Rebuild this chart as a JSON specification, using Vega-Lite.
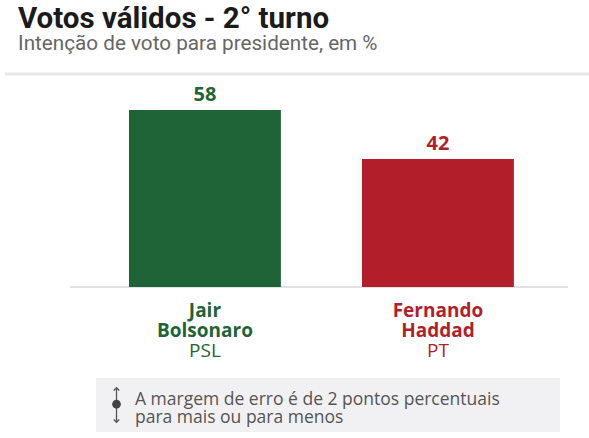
{
  "$schema": "https://vega.github.io/schema/vega-lite/v6.json",
  "width": 589,
  "height": 363,
  "autosize": {"type": "none"},
  "padding": {"left": 0, "right": 0, "top": 75, "bottom": 0},
  "background": "#ffffff",
  "config": {"view": {"stroke": null}},
  "title": {
    "text": "Votos válidos - 2° turno",
    "subtitle": "Intenção de voto para presidente, em %",
    "anchor": "start",
    "frame": "group",
    "dx": 18,
    "offset": 17.5,
    "font": "Roboto",
    "fontSize": 29.5,
    "fontWeight": "bold",
    "color": "#1b1b1b",
    "subtitleFont": "Roboto",
    "subtitleFontSize": 20.7,
    "subtitleColor": "#666666",
    "subtitlePadding": 0
  },
  "datasets": {
    "pesquisa": [
      {"candidato": "Jair Bolsonaro", "partido": "PSL", "votos": 58},
      {"candidato": "Fernando Haddad", "partido": "PT", "votos": 42}
    ],
    "nota": [
      {"texto": "A margem de erro é de 2 pontos percentuais\npara mais ou para menos"}
    ]
  },
  "resolve": {"scale": {"x": "independent"}},
  "layer": [
    {
      "data": {"values": [{}]},
      "mark": {"type": "rule", "color": "#e8e8e8", "strokeWidth": 3},
      "encoding": {
        "x": {"datum": 5, "type": "quantitative", "scale": {"domain": [0, 589], "nice": false, "zero": false}, "axis": null},
        "x2": {"datum": 589},
        "y": {"datum": 69.8, "type": "quantitative", "scale": {"domain": [-49.5, 69.5], "nice": false, "zero": false}, "axis": null}
      }
    },
    {
      "data": {"values": [{}]},
      "mark": {"type": "rule", "color": "#d9d9d9", "strokeWidth": 1.5},
      "encoding": {
        "x": {"datum": 70, "type": "quantitative", "scale": {"domain": [0, 589], "nice": false, "zero": false}, "axis": null},
        "x2": {"datum": 568},
        "y": {"datum": 0, "type": "quantitative", "scale": {"domain": [-49.5, 69.5], "nice": false, "zero": false}, "axis": null}
      }
    },
    {
      "data": {"name": "pesquisa"},
      "mark": {"type": "bar"},
      "encoding": {
        "x": {"field": "candidato", "type": "nominal", "sort": null, "axis": null,
              "scale": {"type": "band", "paddingInner": 0.348, "paddingOuter": 0.438, "align": 0.632}},
        "y": {"field": "votos", "type": "quantitative", "scale": {"domain": [-49.5, 69.5], "nice": false, "zero": false}, "axis": null},
        "y2": {"datum": 0},
        "color": {"field": "candidato", "type": "nominal", "legend": null,
                  "scale": {"domain": ["Jair Bolsonaro", "Fernando Haddad"], "range": ["#1f6436", "#b21f2b"]}}
      }
    },
    {
      "data": {"name": "pesquisa"},
      "mark": {"type": "text", "font": "Open Sans", "fontSize": 20, "fontWeight": "bold", "align": "center", "baseline": "alphabetic", "dy": -9},
      "encoding": {
        "x": {"field": "candidato", "type": "nominal", "sort": null, "axis": null, "bandPosition": 0.5,
              "scale": {"type": "band", "paddingInner": 0.348, "paddingOuter": 0.438, "align": 0.632}},
        "y": {"field": "votos", "type": "quantitative", "scale": {"domain": [-49.5, 69.5], "nice": false, "zero": false}, "axis": null},
        "text": {"field": "votos", "type": "quantitative"},
        "color": {"field": "candidato", "type": "nominal", "legend": null,
                  "scale": {"domain": ["Jair Bolsonaro", "Fernando Haddad"], "range": ["#1f6436", "#b21f2b"]}}
      }
    },
    {
      "data": {"name": "pesquisa"},
      "mark": {"type": "text", "font": "Open Sans", "fontSize": 19, "fontWeight": "bold", "align": "center", "baseline": "alphabetic", "lineBreak": " ", "lineHeight": 20, "dy": 30},
      "encoding": {
        "x": {"field": "candidato", "type": "nominal", "sort": null, "axis": null, "bandPosition": 0.5,
              "scale": {"type": "band", "paddingInner": 0.348, "paddingOuter": 0.438, "align": 0.632}},
        "y": {"datum": 0, "type": "quantitative", "scale": {"domain": [-49.5, 69.5], "nice": false, "zero": false}, "axis": null},
        "text": {"field": "candidato", "type": "nominal"},
        "color": {"field": "candidato", "type": "nominal", "legend": null,
                  "scale": {"domain": ["Jair Bolsonaro", "Fernando Haddad"], "range": ["#1f6436", "#b21f2b"]}}
      }
    },
    {
      "data": {"name": "pesquisa"},
      "mark": {"type": "text", "font": "Open Sans", "fontSize": 19, "fontWeight": "normal", "align": "center", "baseline": "alphabetic", "dy": 70},
      "encoding": {
        "x": {"field": "candidato", "type": "nominal", "sort": null, "axis": null, "bandPosition": 0.5,
              "scale": {"type": "band", "paddingInner": 0.348, "paddingOuter": 0.438, "align": 0.632}},
        "y": {"datum": 0, "type": "quantitative", "scale": {"domain": [-49.5, 69.5], "nice": false, "zero": false}, "axis": null},
        "text": {"field": "partido", "type": "nominal"},
        "color": {"field": "candidato", "type": "nominal", "legend": null,
                  "scale": {"domain": ["Jair Bolsonaro", "Fernando Haddad"], "range": ["#1f6436", "#b21f2b"]}}
      }
    },
    {
      "data": {"values": [{}]},
      "mark": {"type": "rect", "color": "#f1f0f2"},
      "encoding": {
        "x": {"datum": 96, "type": "quantitative", "scale": {"domain": [0, 589], "nice": false, "zero": false}, "axis": null},
        "x2": {"datum": 560},
        "y": {"datum": -29.8, "type": "quantitative", "scale": {"domain": [-49.5, 69.5], "nice": false, "zero": false}, "axis": null},
        "y2": {"datum": -47.5}
      }
    },
    {
      "data": {"values": [{}]},
      "mark": {"type": "rule", "color": "#555555", "strokeWidth": 1.3},
      "encoding": {
        "x": {"datum": 116.5, "type": "quantitative", "scale": {"domain": [0, 589], "nice": false, "zero": false}, "axis": null},
        "y": {"datum": -33.2, "type": "quantitative", "scale": {"domain": [-49.5, 69.5], "nice": false, "zero": false}, "axis": null},
        "y2": {"datum": -44.2}
      }
    },
    {
      "data": {"values": [{}]},
      "mark": {"type": "point", "filled": true, "color": "#444444", "size": 75, "opacity": 1},
      "encoding": {
        "x": {"datum": 116.5, "type": "quantitative", "scale": {"domain": [0, 589], "nice": false, "zero": false}, "axis": null},
        "y": {"datum": -38.4, "type": "quantitative", "scale": {"domain": [-49.5, 69.5], "nice": false, "zero": false}, "axis": null}
      }
    },
    {
      "data": {"values": [{}]},
      "mark": {"type": "point", "filled": false, "color": "#555555", "strokeWidth": 1.3, "size": 30, "opacity": 1, "shape": "M-1,0.6L0,-0.4L1,0.6"},
      "encoding": {
        "x": {"datum": 116.5, "type": "quantitative", "scale": {"domain": [0, 589], "nice": false, "zero": false}, "axis": null},
        "y": {"datum": -33.4, "type": "quantitative", "scale": {"domain": [-49.5, 69.5], "nice": false, "zero": false}, "axis": null}
      }
    },
    {
      "data": {"values": [{}]},
      "mark": {"type": "point", "filled": false, "color": "#555555", "strokeWidth": 1.3, "size": 30, "opacity": 1, "shape": "M-1,-0.6L0,0.4L1,-0.6"},
      "encoding": {
        "x": {"datum": 116.5, "type": "quantitative", "scale": {"domain": [0, 589], "nice": false, "zero": false}, "axis": null},
        "y": {"datum": -44.0, "type": "quantitative", "scale": {"domain": [-49.5, 69.5], "nice": false, "zero": false}, "axis": null}
      }
    },
    {
      "data": {"name": "nota"},
      "mark": {"type": "text", "font": "Open Sans", "fontSize": 17.5, "color": "#555555", "align": "left", "baseline": "alphabetic", "lineBreak": "\n", "lineHeight": 18},
      "encoding": {
        "x": {"datum": 135, "type": "quantitative", "scale": {"domain": [0, 589], "nice": false, "zero": false}, "axis": null},
        "y": {"datum": -38.7, "type": "quantitative", "scale": {"domain": [-49.5, 69.5], "nice": false, "zero": false}, "axis": null},
        "text": {"field": "texto", "type": "nominal"}
      }
    }
  ]
}
